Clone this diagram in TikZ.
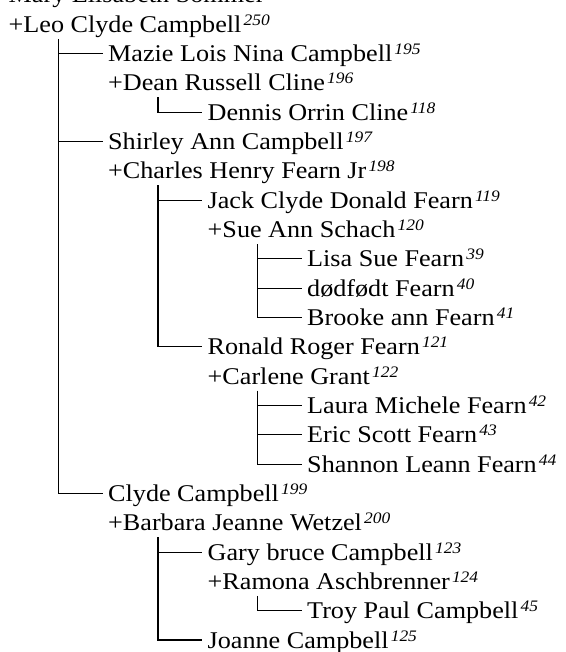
\documentclass[tikz,border=0pt]{standalone}
\usepackage{fontspec}
\setmainfont[FakeStretch=1.09]{Liberation Serif}
\newcommand{\idx}[1]{\kern2.2pt\raisebox{7pt}{\fontsize{16}{16}\selectfont\itshape #1}}
\begin{document}
\begin{tikzpicture}[x=1pt,y=1pt,
  person/.style={anchor=base west,inner sep=0pt,font=\fontsize{24}{24}\selectfont},
  link/.style={line width=1.1pt}]
\useasboundingbox (0,0) rectangle (565,-652);
\def\rs{29.32}
% level x positions: 8.5, 108, 207.5, 307
\node[person] (mary)    at (8.5,{-3-0*\rs})   {Mary Elisabeth Sommer};
\node[person] (leo)     at (8.5,{-3-1*\rs})   {+Leo Clyde Campbell\idx{250}};
\node[person] (mazie)   at (108,{-3-2*\rs}) {Mazie Lois Nina Campbell\idx{195}};
\node[person] (dean)    at (108,{-3-3*\rs}) {+Dean Russell Cline\idx{196}};
\node[person] (dennis)  at (207.5,{-3-4*\rs}) {Dennis Orrin Cline\idx{118}};
\node[person] (shirley) at (108,{-3-5*\rs}) {Shirley Ann Campbell\idx{197}};
\node[person] (charles) at (108,{-3-6*\rs}) {+Charles Henry Fearn Jr\idx{198}};
\node[person] (jack)    at (207.5,{-3-7*\rs}) {Jack Clyde Donald Fearn\idx{119}};
\node[person] (sue)     at (207.5,{-3-8*\rs}) {+Sue Ann Schach\idx{120}};
\node[person] (lisa)    at (307,{-3-9*\rs}) {Lisa Sue Fearn\idx{39}};
\node[person] (dodfodt) at (307,{-3-10*\rs}) {dødfødt Fearn\idx{40}};
\node[person] (brooke)  at (307,{-3-11*\rs}) {Brooke ann Fearn\idx{41}};
\node[person] (ronald)  at (207.5,{-3-12*\rs}) {Ronald Roger Fearn\idx{121}};
\node[person] (carlene) at (207.5,{-3-13*\rs}) {+Carlene Grant\idx{122}};
\node[person] (laura)   at (307,{-3-14*\rs}) {Laura Michele Fearn\idx{42}};
\node[person] (eric)    at (307,{-3-15*\rs}) {Eric Scott Fearn\idx{43}};
\node[person] (shannon) at (307,{-3-16*\rs}) {Shannon Leann Fearn\idx{44}};
\node[person] (clyde)   at (108,{-3-17*\rs}) {Clyde Campbell\idx{199}};
\node[person] (barbara) at (108,{-3-18*\rs}) {+Barbara Jeanne Wetzel\idx{200}};
\node[person] (gary)    at (207.5,{-3-19*\rs}) {Gary bruce Campbell\idx{123}};
\node[person] (ramona)  at (207.5,{-3-20*\rs}) {+Ramona Aschbrenner\idx{124}};
\node[person] (troy)    at (307,{-3-21*\rs}) {Troy Paul Campbell\idx{45}};
\node[person] (joanne)  at (207.5,{-3-22*\rs}) {Joanne Campbell\idx{125}};
% connectors
\foreach \p/\c in {leo/clyde, dean/dennis, charles/ronald, sue/brooke, carlene/shannon, barbara/joanne, ramona/troy}{
  \draw[link] ([xshift=50pt,yshift=-6.5pt]\p.base west) |- ([xshift=-5.5pt,yshift=8pt]\c.base west);
}
\foreach \c in {mazie, shirley, jack, lisa, dodfodt, laura, eric, gary}{
  \draw[link] ([xshift=-50pt,yshift=8pt]\c.base west) -- ([xshift=-5.5pt,yshift=8pt]\c.base west);
}
\end{tikzpicture}
\end{document}
